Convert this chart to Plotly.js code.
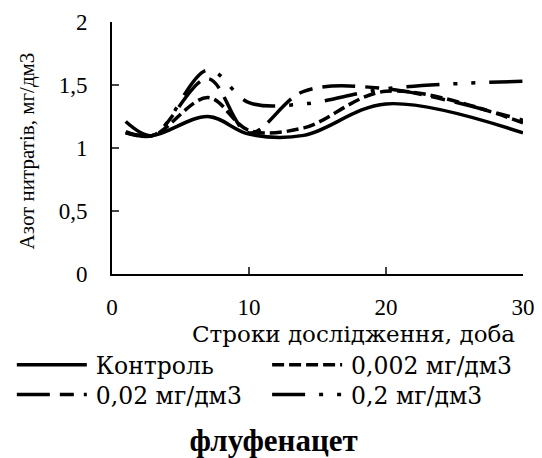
<!DOCTYPE html>
<html><head><meta charset="utf-8">
<script src="https://cdn.plot.ly/plotly-3.0.1.min.js"></script>
<style>html,body{margin:0;padding:0;background:#fff}#chart{width:542px;height:458px}</style>
</head><body><div id="chart"></div>
<script>
const days = [1, 3, 7, 10, 14, 20, 30];
const control = [1.12, 1.10, 1.25, 1.11, 1.10, 1.35, 1.12];
const dose0002 = [1.12, 1.10, 1.40, 1.14, 1.16, 1.45, 1.20];
const dose002 = [1.13, 1.10, 1.55, 1.12, 1.45, 1.47, 1.22];
const dose02 = [1.21, 1.10, 1.62, 1.36, 1.35, 1.47, 1.53];
const seriesNames = ['Контроль', '0,002 мг/дм3', '0,02 мг/дм3', '0,2 мг/дм3'];
const xTickVals = [0, 10, 20, 30];
const yTickVals = [0, 0.5, 1, 1.5, 2];
const yTickText = ['0', '0,5', '1', '1,5', '2'];

const dashes = ['solid', '12px,5px', '33px,10px,14px,10px', '33px,14px,4px,14px,4px,14px'];
const legendOf = ['legend', 'legend2', 'legend3', 'legend4'];
const seriesY = [control, dose0002, dose002, dose02];
const fam = '"Liberation Serif", "Times New Roman", Times, serif';
const wideFam = '"DejaVu Serif", serif';

const traces = seriesY.map((ys, i) => ({
  type: 'scatter', mode: 'lines', x: days, y: ys, name: seriesNames[i],
  legend: legendOf[i],
  line: {color: '#000', width: 3.5, dash: dashes[i], shape: 'spline', smoothing: 1}
}));

const legendBase = {orientation: 'v', xref: 'container', yref: 'container',
  xanchor: 'left', yanchor: 'top', font: {size: 23.5, family: wideFam, color: '#000'},
  tracegroupgap: 0, bgcolor: 'rgba(0,0,0,0)'};
const colX = [0.103, 0.574];
const rowY = [0.251, 0.186];

const layout = {
  width: 542, height: 458,
  margin: {l: 112, r: 19, t: 22, b: 184, autoexpand: false},
  paper_bgcolor: '#fff', plot_bgcolor: '#fff',
  font: {family: fam, color: '#000', size: 22},
  showlegend: true,
  legend: Object.assign({}, legendBase, {x: colX[0], y: rowY[0]}),
  legend2: Object.assign({}, legendBase, {x: colX[1], y: rowY[0]}),
  legend3: Object.assign({}, legendBase, {x: colX[0], y: rowY[1]}),
  legend4: Object.assign({}, legendBase, {x: colX[1], y: rowY[1]}),
  title: {text: '<b>флуфенацет</b>', xref: 'container', yref: 'container', x: 0.505, y: 0.04,
    xanchor: 'center', yanchor: 'middle', font: {size: 31, family: fam, color: '#000'}},
  xaxis: {range: [0, 30], tickvals: xTickVals, ticks: 'inside', ticklen: 7, tickwidth: 2,
    showline: true, linecolor: '#000', linewidth: 2, showgrid: false, zeroline: false,
    ticklabelstandoff: 11, tickfont: {size: 23, family: fam, color: '#000'}},
  yaxis: {range: [0, 2], tickvals: yTickVals, ticktext: yTickText, ticks: 'inside', ticklen: 7, tickwidth: 2,
    showline: true, linecolor: '#000', linewidth: 2, showgrid: false, zeroline: false,
    ticklabelstandoff: 18, tickfont: {size: 23, family: fam, color: '#000'}},
  annotations: [
    {text: 'Строки дослідження, доба', xref: 'paper', yref: 'paper', x: 0.587, y: -0.24,
     xanchor: 'center', yanchor: 'middle', showarrow: false, font: {size: 23, family: wideFam, color: '#000'}},
    {text: 'Азот нитратів, мг/дм3', xref: 'paper', yref: 'paper', x: -0.207, y: 0.49, textangle: -90,
     xanchor: 'center', yanchor: 'middle', showarrow: false, font: {size: 21, family: fam, color: '#000'}}
  ]
};
function stretchSwatches(gd) {
  gd.querySelectorAll('.scrollbox').forEach(el => {
    if (el.hasAttribute('clip-path')) el.removeAttribute('clip-path');
    if (el.style.clipPath) el.style.clipPath = '';
  });
  gd.querySelectorAll('g.legendlines path').forEach(p => {
    if (p.getAttribute('d') !== 'M-39,0h70') p.setAttribute('d', 'M-39,0h70');
  });
}
const gdiv = document.getElementById('chart');
Plotly.newPlot(gdiv, traces, layout, {displayModeBar: false, staticPlot: true}).then(gd => {
  stretchSwatches(gd);
  new MutationObserver(() => stretchSwatches(gd)).observe(gd, {subtree: true, childList: true, attributes: true, attributeFilter: ['d', 'clip-path']});
  [50, 200, 400, 800].forEach(t => setTimeout(() => stretchSwatches(gd), t));
});
</script></body></html>
